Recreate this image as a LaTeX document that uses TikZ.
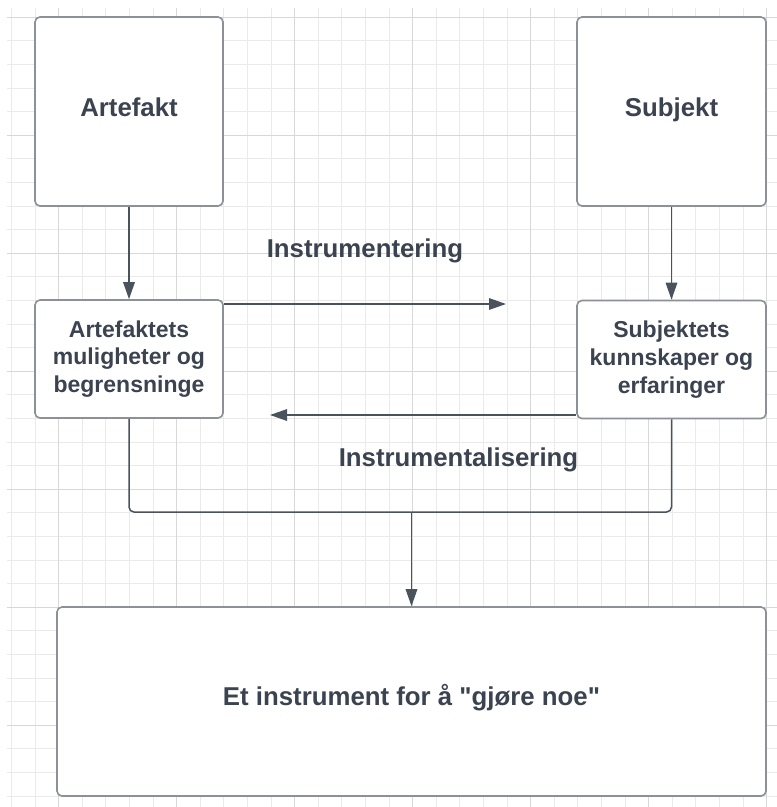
\documentclass[tikz,border=0pt]{standalone}
\usepackage{fontspec}
\setmainfont{Liberation Sans}[Ligatures=TeXOff]
\usetikzlibrary{arrows.meta}
\definecolor{txt}{HTML}{3B4350}
\definecolor{bord}{HTML}{8C9097}
\definecolor{conn}{HTML}{4A525C}
\definecolor{gminor}{HTML}{EAEAEA}
\definecolor{gmajor}{HTML}{D8D8D8}
\tikzset{
  boxshape/.style={draw=bord, line width=1.6pt, rounded corners=5pt, fill=white, inner sep=0pt, text=txt, align=center},
  titlefont/.style={font=\fontsize{25.8}{31}\selectfont\bfseries},
  smallfont/.style={font=\fontsize{23}{27.8}\selectfont\bfseries},
  labeltext/.style={text=txt, inner sep=0pt, font=\fontsize{25.8}{31}\selectfont\bfseries},
  connline/.style={draw=conn, line width=1.5pt},
  arrowline/.style={connline, -{Triangle[length=17pt,width=11.5pt]}},
  minorline/.style={gminor, line width=1pt},
  majorline/.style={gmajor, line width=1.2pt}
}
\begin{document}
\begin{tikzpicture}[x=1pt, y=-1pt]
\useasboundingbox (0,0) rectangle (777,807);
\fill[white] (0,0) rectangle (777,807);
% grid
\foreach \k in {0,...,32} {\draw[minorline] ({766.7-23.6*\k},8) -- ({766.7-23.6*\k},807);}
\foreach \k in {0,...,33} {\draw[minorline] (6.7,{796-23.6*\k}) -- (777,{796-23.6*\k});}
\foreach \k in {0,5,...,30} {\draw[majorline] ({766.7-23.6*\k},8) -- ({766.7-23.6*\k},807);}
\foreach \k in {3,8,...,33} {\draw[majorline] (6.7,{796-23.6*\k}) -- (777,{796-23.6*\k});}
% boxes
\node[boxshape, titlefont, minimum width=188pt, minimum height=189pt, text height=19pt, text depth=8.6pt] (art) at (129,111.5) {Artefakt};
\node[boxshape, titlefont, minimum width=189pt, minimum height=189pt, text height=19pt, text depth=8.6pt] (sub) at (671.5,111.5) {Subjekt};
\node[boxshape, smallfont, minimum width=188pt, minimum height=118pt] (artm) at (129,359) {Artefaktets\\muligheter og\\begrensninge};
\node[boxshape, smallfont, minimum width=189pt, minimum height=118pt] (subm) at (671.5,359.5) {Subjektets\\kunnskaper og\\erfaringer};
\node[boxshape, titlefont, minimum width=709pt, minimum height=189pt, text height=19pt, text depth=12pt] (inst) at (411.5,701.5) {Et instrument for å "gjøre noe"};
% labels
\node[labeltext, anchor=base] (lab1) at (365,257.3) {Instrumentering};
\node[labeltext, anchor=base] (lab2) at (458.5,466) {Instrumentalisering};
% connectors
\coordinate (t1) at (506,304);
\coordinate (t2) at (270,415);
\coordinate (j) at (411.5,512);
\draw[arrowline] (art.south) -- (artm.north);
\draw[arrowline] (sub.south) -- (subm.north);
\draw[arrowline] (t1 -| artm.east) -- (t1);
\draw[arrowline] (t2 -| subm.west) -- (t2);
\draw[connline, rounded corners=5pt] (artm.south) |- (j);
\draw[connline, rounded corners=5pt] (subm.south) |- (j);
\draw[arrowline] (j) -- (inst.north);
\end{tikzpicture}
\end{document}
